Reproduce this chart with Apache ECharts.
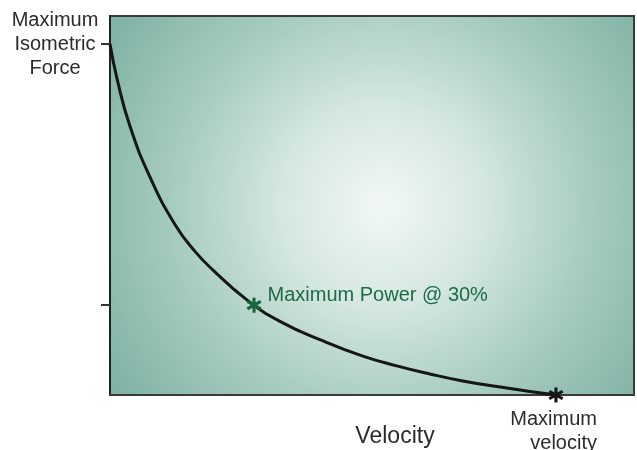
<!DOCTYPE html>
<html>
<head>
<meta charset="utf-8">
<script src="https://cdn.jsdelivr.net/npm/echarts@6/dist/echarts.min.js"></script>
<style>html,body{margin:0;padding:0;background:#fff;}#c{width:637px;height:450px;}</style>
</head>
<body>
<div id="c"></div>
<script>
// Force–velocity curve (values in % of maximum)
const velocity = [0, 1.6, 4.5, 9.0, 14.6, 19.0, 23.1, 30.7, 38.1, 47.8, 56.7, 64.3, 71.7, 79.1, 86.8, 94.2, 100];
const force    = [100, 90.0, 76.5, 62.0, 48.5, 41.0, 35.6, 27.1, 21.0, 15.4, 11.1, 8.3, 6.0, 4.0, 2.4, 1.0, 0];
const powerPoint = [32.3, 25.6];
const maxVelocityPoint = [100, 0];
const yTickValues = [25.6, 100];
const yLabelValues = [100];
const labelIsometric = 'Maximum\nIsometric\nForce';
const labelPower = 'Maximum Power @ 30%';
const labelMaxVel = 'Maximum\nvelocity';
const xName = 'Velocity';
const yName = 'Force';

const star = 'path://M-2,10L2,10L2,-10L-2,-10Z M7.66,6.73L9.66,3.27L-7.66,-6.73L-9.66,-3.27Z M9.66,-3.27L7.66,-6.73L-9.66,3.27L-7.66,6.73Z';
const FONT = '"Liberation Sans", Arial, Helvetica, sans-serif';

const chart = echarts.init(document.getElementById('c'), null, {renderer: 'canvas'});
chart.setOption({
  animation: false,
  backgroundColor: '#ffffff',
  grid: {
    left: 110, top: 16, right: 3, bottom: 55,
    containLabel: false,
    outerBoundsMode: 'none',
    show: true,
    borderColor: '#3a3a3a',
    borderWidth: 2,
    backgroundColor: {
      type: 'radial', x: 0.52, y: 0.5, r: 0.85,
      colorStops: [
        {offset: 0, color: '#f2f8f5'},
        {offset: 0.3, color: '#d6e8e1'},
        {offset: 0.65, color: '#a6cbbf'},
        {offset: 1, color: '#7fb3a5'}
      ]
    }
  },
  xAxis: {
    type: 'value', min: 0, max: 117.5,
    name: xName, nameLocation: 'middle', nameGap: 30,
    nameTextStyle: {fontFamily: FONT, fontSize: 23, color: '#2b2b2b', padding: [0, 0, 0, 46]},
    axisLine: {show: true, lineStyle: {color: '#3a3a3a', width: 2}},
    axisTick: {show: false}, axisLabel: {show: false}, splitLine: {show: false}
  },
  yAxis: {
    type: 'value', min: 0, max: 108,
    name: yName, nameLocation: 'middle', nameGap: 56,
    nameTextStyle: {fontFamily: FONT, fontSize: 23, color: '#2b2b2b', padding: [0, 0, 0, 48]},
    axisLine: {show: true, lineStyle: {color: '#222', width: 2}},
    axisTick: {show: true, length: 9, customValues: yTickValues, lineStyle: {color: '#333', width: 2}},
    axisLabel: {
      show: true, customValues: yLabelValues, margin: 55, align: 'center',
      fontFamily: FONT, fontSize: 20, lineHeight: 24, color: '#2b2b2b',
      formatter: () => labelIsometric
    },
    splitLine: {show: false}
  },
  series: [
    {
      type: 'line', data: velocity.map((v, i) => [v, force[i]]),
      smooth: 0.5, showSymbol: false, symbol: 'none',
      lineStyle: {color: '#161616', width: 3}, z: 2
    },
    {
      type: 'scatter', data: [powerPoint], symbol: star, symbolSize: 15,
      itemStyle: {color: '#17653f', opacity: 1}, z: 3,
      label: {show: true, position: 'right', distance: 6, offset: [0, -10],
        formatter: labelPower, fontFamily: FONT, fontSize: 20, color: '#1b6b47'}
    },
    {
      type: 'scatter', data: [maxVelocityPoint], symbol: star, symbolSize: 15,
      itemStyle: {color: '#161616', opacity: 1}, z: 3,
      label: {show: true, position: 'bottom', distance: 5, align: 'right', offset: [41, 0],
        formatter: labelMaxVel, fontFamily: FONT, fontSize: 20, lineHeight: 24, color: '#2b2b2b', opacity: 1}
    }
  ]
});
</script>
</body>
</html>
